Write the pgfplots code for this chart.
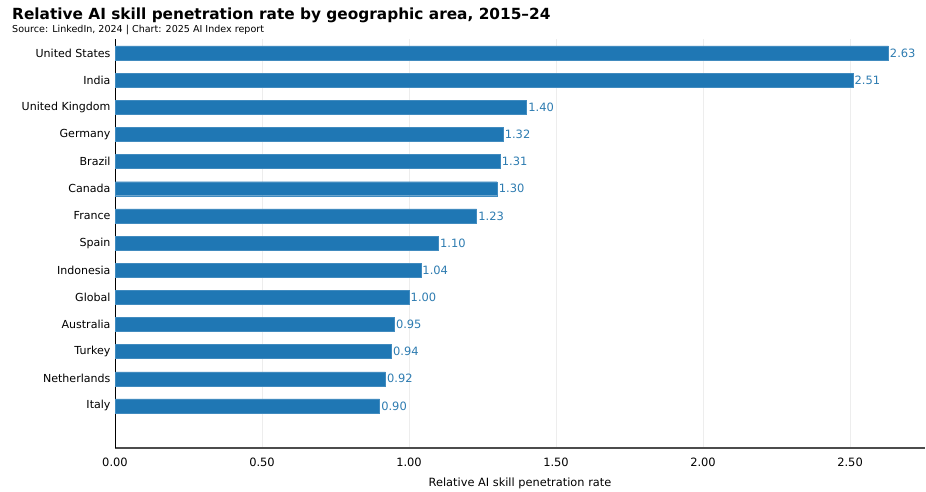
\documentclass[border=0pt]{standalone}
\usepackage{pgfplots}
\pgfplotsset{compat=1.18}
\usepackage{fontspec}
\setmainfont{DejaVu Sans}
\definecolor{barblue}{RGB}{31,119,180}
\definecolor{lblblue}{RGB}{45,123,176}
\begin{document}
\begin{tikzpicture}[x=1bp,y=1bp]
\useasboundingbox (0,0) rectangle (926,492);
\node[anchor=base west,inner sep=0,font=\fontsize{15.4}{18}\selectfont\bfseries] at (12,472) {Relative AI skill penetration rate by geographic area, 2015--24};
\node[anchor=base west,inner sep=0,font=\fontsize{9.6}{10}\selectfont] at (12,459) {Source: LinkedIn, 2024 | Chart: 2025 AI Index report};
\begin{axis}[
  at={(115bp,44bp)}, anchor=south west,
  scale only axis, width=810bp, height=408.6bp,
  xbar, bar width=14bp,
  xmin=0, xmax=2.755, ymin=-0.55, ymax=14.5,
  axis x line*=bottom, axis y line*=left,
  x axis line style={draw=black!70, line width=1.6pt, -},
  y axis line style={draw=black, line width=0.7pt, -},
  xtick={0,0.5,1,1.5,2,2.5},
  major tick length=0pt,
  xmajorgrids, ymajorgrids=false,
  major grid style={draw=black!7, line width=0.5pt},
  /pgf/number format/assume math mode=true,
  xticklabel={\pgfmathprintnumber[fixed,fixed zerofill,precision=2]{\tick}},
  xticklabel style={font=\fontsize{11.5}{12}\selectfont, yshift=-6bp},
  ytick={1,...,14},
  yticklabels={Italy,Netherlands,Turkey,Australia,Global,Indonesia,Spain,France,Canada,Brazil,Germany,United Kingdom,India,United States},
  yticklabel style={font=\fontsize{11.1}{12}\selectfont, xshift=-1bp},
  xlabel={Relative AI skill penetration rate},
  xlabel style={font=\fontsize{11.4}{12}\selectfont, yshift=-5bp},
  nodes near coords={\pgfmathprintnumber[fixed,fixed zerofill,precision=2,assume math mode=true]{\pgfplotspointmeta}},
  nodes near coords style={font=\fontsize{11.5}{12}\selectfont, text=lblblue, anchor=west, inner sep=1.5bp},
  clip=false,
]
\addplot[fill=barblue, draw=barblue!85!white, line width=0.4pt] coordinates {
(2.63,14) (2.51,13) (1.40,12) (1.32,11) (1.31,10) (1.30,9) (1.23,8) (1.10,7) (1.04,6) (1.00,5) (0.95,4) (0.94,3) (0.92,2) (0.90,1)
};
\end{axis}
\end{tikzpicture}
\end{document}
